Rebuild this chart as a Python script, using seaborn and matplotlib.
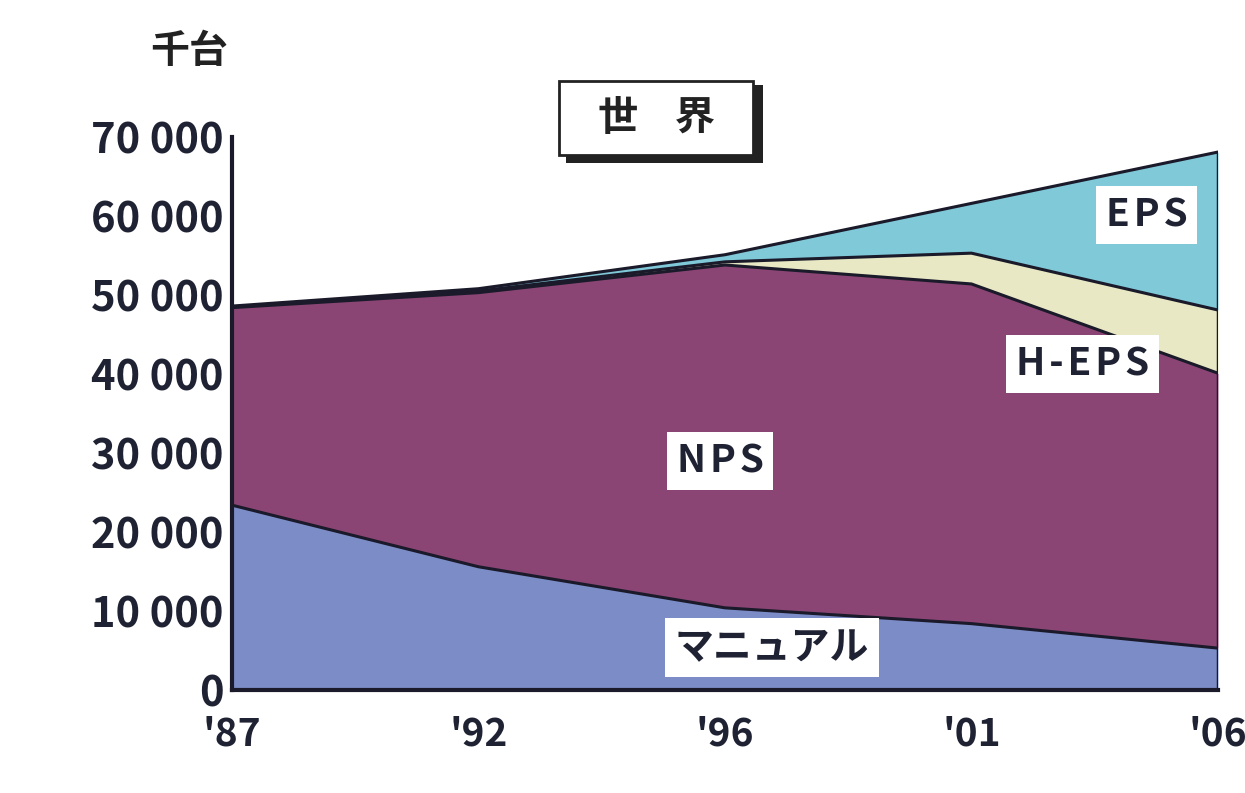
import numpy as np
import pandas as pd
import matplotlib
matplotlib.use("Agg")
import matplotlib.pyplot as plt
import seaborn as sns
from matplotlib.patches import Rectangle

# data (千台)
years = ["'87", "'92", "'96", "'01", "'06"]
manual = [23400, 15600, 10400, 8400, 5300]
nps = [25000, 34700, 43400, 43000, 34800]
heps = [100, 200, 400, 3900, 8000]
eps = [100, 300, 900, 6300, 20000]

series_names = ["マニュアル", "NPS", "H-EPS", "EPS"]
colors = ["#7b8cc6", "#8a4574", "#e8e8c4", "#80c9d9"]

sns.set_style("white")
plt.rcParams['font.family'] = ['Noto Sans CJK JP', 'DejaVu Sans']

fig = plt.figure(figsize=(12.45, 7.93), dpi=100)
ax = fig.add_axes([0.1863, 0.1299, 0.792, 0.6973])

x = np.arange(len(years))
stack = np.cumsum(np.array([manual, nps, heps, eps]), axis=0)
lower = np.zeros(len(years))
for i, name in enumerate(series_names):
    ax.fill_between(x, lower, stack[i], color=colors[i], linewidth=0, zorder=1)
    lower = stack[i]

# boundary lines
df = pd.DataFrame({"x": np.tile(x, 4), "y": stack.flatten(),
                   "s": np.repeat(series_names, len(years))})
sns.lineplot(data=df, x="x", y="y", units="s", estimator=None, color="#1a1a2a",
             linewidth=2.2, ax=ax, legend=False, zorder=2)
ax.plot([4, 4], [0, stack[-1][-1]], color="#1a1a2a", linewidth=2.5, zorder=3)

ax.set_xlim(0, 4)
ax.set_ylim(0, 70000)
ax.set_xlabel("")
ax.set_ylabel("")
ax.set_xticks(x)
ax.set_xticklabels(years)
ax.set_yticks(np.arange(0, 70001, 10000))
ax.set_yticklabels([f"{v:,}".replace(",", " ") for v in range(0, 70001, 10000)])
for sp in ["top", "right"]:
    ax.spines[sp].set_visible(False)
for sp in ["left", "bottom"]:
    ax.spines[sp].set_color("#1a1a2a")
    ax.spines[sp].set_linewidth(3)
    ax.spines[sp].set_zorder(4)
ax.tick_params(axis="both", direction="in", length=8, width=2, color="#1a1a2a",
               labelcolor="#1f2233")
ax.tick_params(axis="y", labelsize=30, pad=6)
ax.tick_params(axis="x", labelsize=28, pad=18)
for t in ax.get_xticklabels() + ax.get_yticklabels():
    t.set_fontweight("bold")

fig.text(0.152, 0.935, "千台", fontsize=28, fontweight="bold", ha="center", va="center",
         color="#222222")

# title box with shadow
fig.patches.append(Rectangle((0.455, 0.795), 0.158, 0.098, transform=fig.transFigure,
                             facecolor="#222222", edgecolor="none", zorder=5))
fig.patches.append(Rectangle((0.449, 0.805), 0.156, 0.093, transform=fig.transFigure,
                             facecolor="white", edgecolor="#222222", linewidth=2, zorder=6))
fig.text(0.527, 0.851, "世    界", fontsize=29, fontweight="bold", ha="center", va="center",
         color="#222222", zorder=7)

sp_ = "\u200a"
box = dict(boxstyle="square,pad=0.25", facecolor="white", edgecolor="none")
lab = dict(fontsize=28, fontweight="bold", ha="center", va="center", color="#1f2233", bbox=box, zorder=6)
ax.text(3.71, 60100, sp_.join("EPS"), **lab)
ax.text(3.45, 41300, sp_.join("H-EPS"), **lab)
ax.text(1.98, 29000, sp_.join("NPS"), **lab)
ax.text(2.19, 5400, "マニュアル", **lab)

fig.savefig("out.png", dpi=100)
